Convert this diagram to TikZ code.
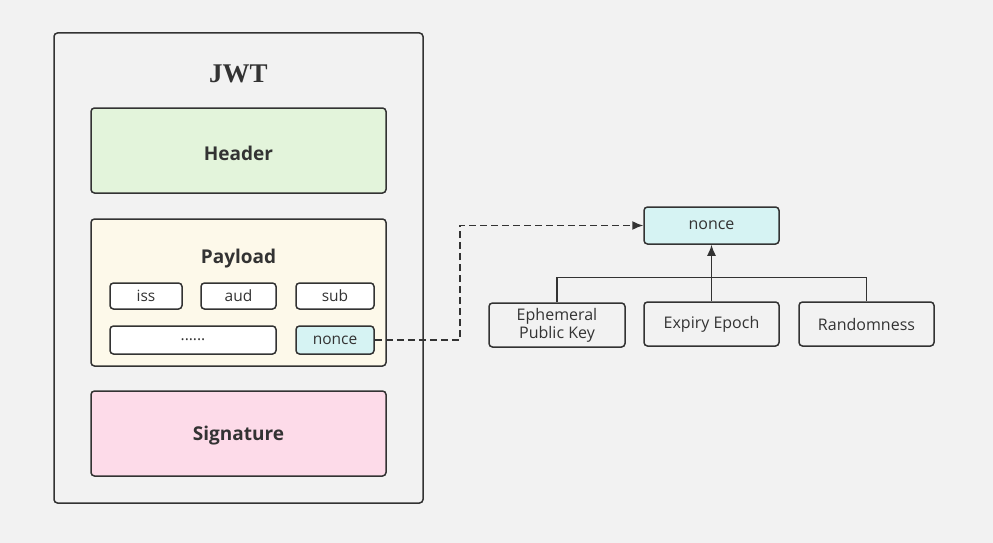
\documentclass[tikz,border=0pt]{standalone}
\usepackage{fontspec}
\setmainfont{Open Sans}
\newfontfamily\titlefont{Liberation Serif}
\usetikzlibrary{arrows.meta}
\definecolor{bgGray}{HTML}{F2F2F2}
\definecolor{lineGray}{HTML}{333333}
\definecolor{headGreen}{HTML}{E3F4DB}
\definecolor{loadYellow}{HTML}{FDF9EA}
\definecolor{signPink}{HTML}{FDDBE9}
\definecolor{nonceCyan}{HTML}{D6F3F3}
\tikzset{box/.style={draw=lineGray, line width=1.5pt, rounded corners=3.5pt, text=lineGray, inner sep=0pt}}
\tikzset{part/.style={box, minimum width=295pt, font=\fontsize{19}{22}\selectfont\bfseries}}
\tikzset{field/.style={box, fill=white, minimum height=26pt, font=\fontsize{15.5}{18}\selectfont}}
\tikzset{item/.style={box, fill=bgGray, minimum width=135pt, minimum height=44pt, align=center, font=\fontsize{16}{18}\selectfont}}
\tikzset{link/.style={draw=lineGray, line width=1.5pt}}
\tikzset{tip/.style={-{Latex[length=11pt, width=9pt]}}}

\begin{document}
\begin{tikzpicture}[x=1pt, y=-1pt]
      % Background
      \fill[bgGray] (0,0) rectangle (993,543);
      \useasboundingbox (0,0) rectangle (993,543);

      % JWT
      \node[box, fill=bgGray, minimum width=369pt, minimum height=470pt] (jwt) at (238.5,268) {};
      \node[text=lineGray, font=\titlefont\fontsize{27}{30}\selectfont\bfseries] (title) at (238.5,74) {JWT};
      \node[part, fill=headGreen, minimum height=85pt] (header) at (238.5,150.5) {};
      \node[part, fill=loadYellow, minimum height=147pt] (payload) at (238.5,292.5) {};
      \node[part, fill=signPink, minimum height=85pt] (sign) at (238.5,433.5) {};
      \node[text=lineGray, font=\fontsize{19}{22}\selectfont\bfseries] (headtitle) at (238.5,153) {Header};
      \node[text=lineGray, font=\fontsize{19}{22}\selectfont\bfseries] (paytitle) at (238.5,259) {Payload};
      \node[text=lineGray, font=\fontsize{19}{22}\selectfont\bfseries] (signtitle) at (238.5,435.5) {Signature};

      % Claims
      \node[field, minimum width=72pt] (iss) at (146,296) {iss};
      \node[field, minimum width=75pt] (aud) at (238.5,296) {aud};
      \node[field, minimum width=78pt] (sub) at (335,296) {sub};
      \node[field, minimum width=166pt, minimum height=28pt] (dots) at (193,340) {......};
      \node[field, fill=nonceCyan, minimum width=78pt, minimum height=28pt] (pnonce) at (335,340) {nonce};

      % Nonce parts
      \node[item, fill=nonceCyan, minimum height=37pt] (nonce) at (711.5,225.5) {nonce};
      \node[item, minimum width=136pt] (eph) at (557,325) {Ephemeral\\Public Key};
      \node[item] (epoch) at (711.5,324) {Expiry Epoch};
      \node[item] (rand) at (866.5,324) {Randomness};

      % Connectors
      \draw[link] (eph.north) -- ++(0,-25) -| (rand.north);
      \draw[link, tip] (epoch.north) -- (nonce.south);
      \draw[link, dash pattern=on 7pt off 4pt, tip] (pnonce.east) -- ++(85,0) |- (nonce.west);
\end{tikzpicture}
\end{document}
